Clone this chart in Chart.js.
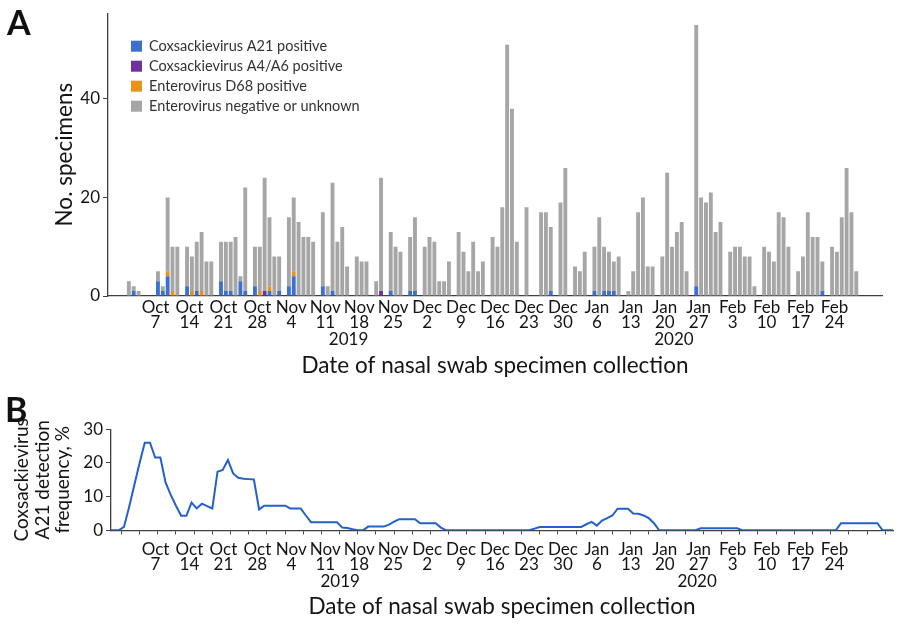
<!DOCTYPE html>
<html>
<head>
<meta charset="utf-8">
<script src="https://cdn.jsdelivr.net/npm/chart.js@4.4.1/dist/chart.umd.min.js"></script>
<style>
  body { margin: 0; background: #fff; }
  #wrap { position: relative; width: 900px; height: 637px; }
  .panel { position: absolute; left: 0; width: 900px; }
  #panelA { top: 0; height: 385px; }
  #panelB { top: 385px; height: 252px; }
  .letter { position: absolute; font: bold 34px Lato, sans-serif; color: #111; }
</style>
</head>
<body>
<div id="wrap">
  <div class="panel" id="panelA"><canvas id="chartA"></canvas></div>
  <div class="panel" id="panelB"><canvas id="chartB"></canvas></div>
  <div class="letter" style="left:7px;top:1px">A</div>
  <div class="letter" style="left:5px;top:388px">B</div>
</div>
<script>
// one value per day, index 0 = Oct 1 2019 ... index 151 = Feb 29 2020
const a21 = [
  0,1,0,0,0,0,3,
  1,4,0,0,0,2,0,
  1,0,0,0,0,3,1,
  1,0,3,1,0,2,0,
  0,1,0,1,0,2,4,
  0,0,0,0,0,2,0,
  1,0,0,0,0,0,0,
  0,0,0,0,0,1,0,
  0,0,1,1,0,0,0,
  0,0,0,0,0,0,0,
  0,0,0,0,0,0,0,
  0,0,0,0,0,0,0,
  0,0,0,1,0,0,0,
  0,0,0,0,0,1,0,
  1,1,1,0,0,0,0,
  0,0,0,0,0,0,0,
  0,0,0,0,0,2,0,
  0,0,0,0,0,0,0,
  0,0,0,0,0,0,0,
  0,0,0,0,0,0,0,
  0,0,0,1,0,0,0,
  0,0,0,0,0
];
const a4a6 = [
  0,0,0,0,0,0,0,
  0,0,0,0,0,0,0,
  0,0,0,0,0,0,0,
  0,0,0,0,0,0,0,
  1,0,0,0,0,0,0,
  0,0,0,0,0,0,0,
  0,0,0,0,0,0,0,
  0,0,0,1,0,0,0,
  0,0,0,0,0,0,0,
  0,0,0,0,0,0,0,
  0,0,0,0,0,0,0,
  0,0,0,0,0,0,0,
  0,0,0,0,0,0,0,
  0,0,0,0,0,0,0,
  0,0,0,0,0,0,0,
  0,0,0,0,0,0,0,
  0,0,0,0,0,0,0,
  0,0,0,0,0,0,0,
  0,0,0,0,0,0,0,
  0,0,0,0,0,0,0,
  0,0,0,0,0,0,0,
  0,0,0,0,0
];
const d68 = [
  0,0,0,0,0,0,0,
  0,1,1,0,0,0,1,
  0,1,0,0,0,0,0,
  0,0,0,0,0,0,1,
  0,1,0,0,0,0,1,
  0,0,0,0,0,0,0,
  0,0,0,0,0,0,0,
  0,0,0,0,0,0,0,
  0,0,0,0,0,0,0,
  0,0,0,0,0,0,0,
  0,0,0,0,0,0,0,
  0,0,0,0,0,0,0,
  0,0,0,0,0,0,0,
  0,0,0,0,0,0,0,
  0,0,0,0,0,0,0,
  0,0,0,0,0,0,0,
  0,0,0,0,0,0,0,
  0,0,0,0,0,0,0,
  0,0,0,0,0,0,0,
  0,0,0,0,0,0,0,
  0,0,0,0,0,0,0,
  0,0,0,0,0
];
const negative = [
  3,1,1,0,0,0,2,
  1,15,9,10,0,8,7,
  10,12,7,7,0,8,10,
  10,12,1,21,0,8,9,
  23,14,8,7,0,14,15,
  15,12,12,11,0,15,2,
  22,11,14,6,0,8,7,
  7,0,3,23,0,12,10,
  9,0,11,15,0,10,12,
  11,3,3,7,0,13,9,
  5,11,5,7,0,12,10,
  18,51,38,11,0,18,0,
  0,17,17,13,0,19,26,
  0,6,5,9,0,9,16,
  9,8,6,8,0,1,5,
  17,20,6,6,0,8,25,
  10,13,15,5,0,53,20,
  19,21,13,15,0,9,10,
  10,8,8,2,0,10,9,
  7,17,16,10,0,5,8,
  17,12,12,6,0,10,9,
  16,26,17,5,0
];
// panel B, % of specimens positive for A21 (smoothed)
const detection = [
  0,0,0,1,7,13.5,20,
  26,26,21.6,21.6,14.2,10.5,7.3,
  4.3,4.3,8.2,6.5,7.9,7.2,6.5,
  17.4,17.9,20.9,16.9,15.6,15.3,15.2,
  15.1,6.2,7.3,7.3,7.3,7.3,7.3,
  6.5,6.5,6.5,4.4,2.4,2.4,2.4,
  2.4,2.4,2.4,0.8,0.7,0.3,0,
  0,1.1,1.1,1.1,1.1,1.7,2.6,
  3.3,3.3,3.3,3.3,2.1,2.1,2.1,
  2.1,0.8,0,0,0,0,0,
  0,0,0,0,0,0,0,
  0,0,0,0,0,0.5,1,
  1,1,1,1,1,1,1,
  1,1.8,2.5,1.4,2.9,3.6,4.4,
  6.4,6.4,6.4,5,4.9,4.4,3.6,
  2.1,0,0,0,0,0,0,
  0,0,0.6,0.6,0.6,0.6,0.6,
  0.6,0.6,0.6,0,0,0,0,
  0,0,0,0,0,0,0,
  0,0,0,0,0,0,0,
  0,2.1,2.1,2.1,2.1,2.1,2.1,
  2.1,2.1,0,0,0
];

const firstMonday = 6; // Oct 7
const weekLabels = [
  ['Oct', '7'], ['Oct', '14'], ['Oct', '21'], ['Oct', '28'], ['Nov', '4'], ['Nov', '11'],
  ['Nov', '18'], ['Nov', '25'], ['Dec', '2'], ['Dec', '9'], ['Dec', '16'], ['Dec', '23'],
  ['Dec', '30'], ['Jan', '6'], ['Jan', '13'], ['Jan', '20'], ['Jan', '27'], ['Feb', '3'],
  ['Feb', '10'], ['Feb', '17'], ['Feb', '24']
];
const years = ['2019', '2020'];
const seriesNames = ['Coxsackievirus A21 positive', 'Coxsackievirus A4/A6 positive', 'Enterovirus D68 positive', 'Enterovirus negative or unknown'];
const seriesColors = ['rgb(60, 112, 206)', 'rgb(112, 48, 160)', 'rgb(232, 146, 30)', 'rgb(166, 166, 166)'];

Chart.defaults.font.family = 'Lato, sans-serif';
Chart.defaults.color = '#141414';
Chart.defaults.animation = false;

const AXIS = '#404040';

// legend drawn inside the plot, top left
const insideLegend = {
  id: 'insideLegend',
  afterDraw(chart) {
    const { ctx, chartArea } = chart;
    ctx.save();
    ctx.font = '14.5px Lato, sans-serif';
    ctx.textBaseline = 'middle';
    chart.data.datasets.forEach((ds, i) => {
      const y = chartArea.top + 33 + i * 20;
      ctx.fillStyle = ds.backgroundColor;
      ctx.fillRect(chartArea.left + 23, y - 5.5, 11, 11);
      ctx.fillStyle = '#333';
      ctx.fillText(ds.label, chartArea.left + 41, y);
    });
    ctx.restore();
  }
};

// year row under the date labels
const yearRow = {
  id: 'yearRow',
  afterDraw(chart, args, opts) {
    const { ctx } = chart;
    const x = chart.scales.x;
    ctx.save();
    ctx.font = '17px Lato, sans-serif';
    ctx.fillStyle = '#141414';
    ctx.textAlign = 'center';
    ctx.textBaseline = 'middle';
    years.forEach((t, i) => ctx.fillText(t, x.getPixelForValue(opts.at[i]), x.top + opts.offset));
    ctx.restore();
  }
};

const chartA = new Chart(document.getElementById('chartA'), {
  type: 'bar',
  data: {
    datasets: [a21, a4a6, d68, negative].map((arr, k) => ({
      label: seriesNames[k],
      data: arr.map((v, i) => ({ x: i + 0.5, y: v })),
      backgroundColor: seriesColors[k],
      barPercentage: 0.8,
      categoryPercentage: 1
    }))
  },
  options: {
    responsive: true,
    maintainAspectRatio: false,
    layout: { padding: { top: 8, right: 18, left: 0, bottom: 0 } },
    plugins: {
      legend: { display: false },
      tooltip: { enabled: false },
      yearRow: { at: [45.8, 112.9], offset: 44 }
    },
    scales: {
      x: {
        type: 'linear',
        stacked: true,
        min: 0,
        max: 152,
        grid: { display: false, drawTicks: false },
        border: { display: true, color: AXIS, width: 1.3 },
        afterBuildTicks: s => { s.ticks = weekLabels.map((_, k) => ({ value: firstMonday + 7 * k })); },
        afterFit: s => { s.height = 89; },
        ticks: {
          autoSkip: false, maxRotation: 0, minRotation: 0, padding: 4.5,
          font: { size: 17, lineHeight: 0.88 },
          callback: (v, i) => weekLabels[i]
        },
        title: { display: true, text: 'Date of nasal swab specimen collection', font: { size: 22.5 }, padding: { bottom: 5.5 } }
      },
      y: {
        stacked: true,
        min: 0,
        max: 57.4,
        grid: { display: true, drawOnChartArea: false, drawTicks: true, tickLength: 5, color: AXIS },
        border: { display: true, color: AXIS, width: 1.3 },
        afterFit: s => { s.width = 108; },
        ticks: { stepSize: 20, includeBounds: false, padding: 3, font: { size: 17 } },
        title: { display: true, text: 'No. specimens', font: { size: 22.5 }, padding: { top: 51.5 } }
      }
    }
  },
  plugins: [insideLegend, yearRow]
});

// panel B shares the week labels with panel A
const weekRow = {
  id: 'weekRow',
  afterDraw(chart) {
    const { ctx } = chart;
    const x = chart.scales.x;
    const ref = chartA.scales.x;
    ctx.save();
    ctx.font = '17px Lato, sans-serif';
    ctx.fillStyle = '#141414';
    ctx.textAlign = 'center';
    ctx.textBaseline = 'middle';
    weekLabels.forEach((lab, k) => {
      const px = ref.getPixelForValue(firstMonday + 7 * k);
      ctx.fillText(lab[0], px, x.top + 19);
      ctx.fillText(lab[1], px, x.top + 34);
    });
    ctx.restore();
  }
};

new Chart(document.getElementById('chartB'), {
  type: 'line',
  data: {
    datasets: [{
      data: detection.map((v, i) => ({ x: i, y: v })),
      borderColor: 'rgb(36, 96, 204)',
      borderWidth: 2,
      pointRadius: 0,
      tension: 0,
      fill: false
    }]
  },
  options: {
    responsive: true,
    maintainAspectRatio: false,
    layout: { padding: { top: 44.3, right: 7, left: 0, bottom: 0 } },
    plugins: {
      legend: { display: false },
      tooltip: { enabled: false },
      yearRow: { at: [44.6, 113.3], offset: 51 }
    },
    scales: {
      x: {
        type: 'linear',
        min: 0.5,
        max: 151,
        grid: { display: true, drawOnChartArea: false, drawTicks: true, tickLength: 4, color: AXIS },
        border: { display: true, color: AXIS, width: 1.3 },
        afterBuildTicks: s => {
          const t = [];
          for (let v = firstMonday - 3.5; v <= 151; v += 3.5) t.push({ value: v });
          s.ticks = t;
        },
        afterFit: s => { s.height = 106.7; },
        ticks: { display: false },
        title: { display: true, text: 'Date of nasal swab specimen collection', font: { size: 22.5 }, padding: { bottom: 16.5 } }
      },
      y: {
        min: 0,
        max: 30,
        grid: { display: true, drawOnChartArea: false, drawTicks: true, tickLength: 5, color: AXIS },
        border: { display: true, color: AXIS, width: 1.3 },
        afterFit: s => { s.width = 111; },
        ticks: { stepSize: 10, padding: 3, font: { size: 17 } },
        title: {
          display: true,
          text: ['Coxsackievirus', 'A21 detection', 'frequency, %'],
          font: { size: 19, lineHeight: 1.08 },
          padding: { top: 11.75 }
        }
      }
    }
  },
  plugins: [weekRow, yearRow]
});
</script>
</body>
</html>
